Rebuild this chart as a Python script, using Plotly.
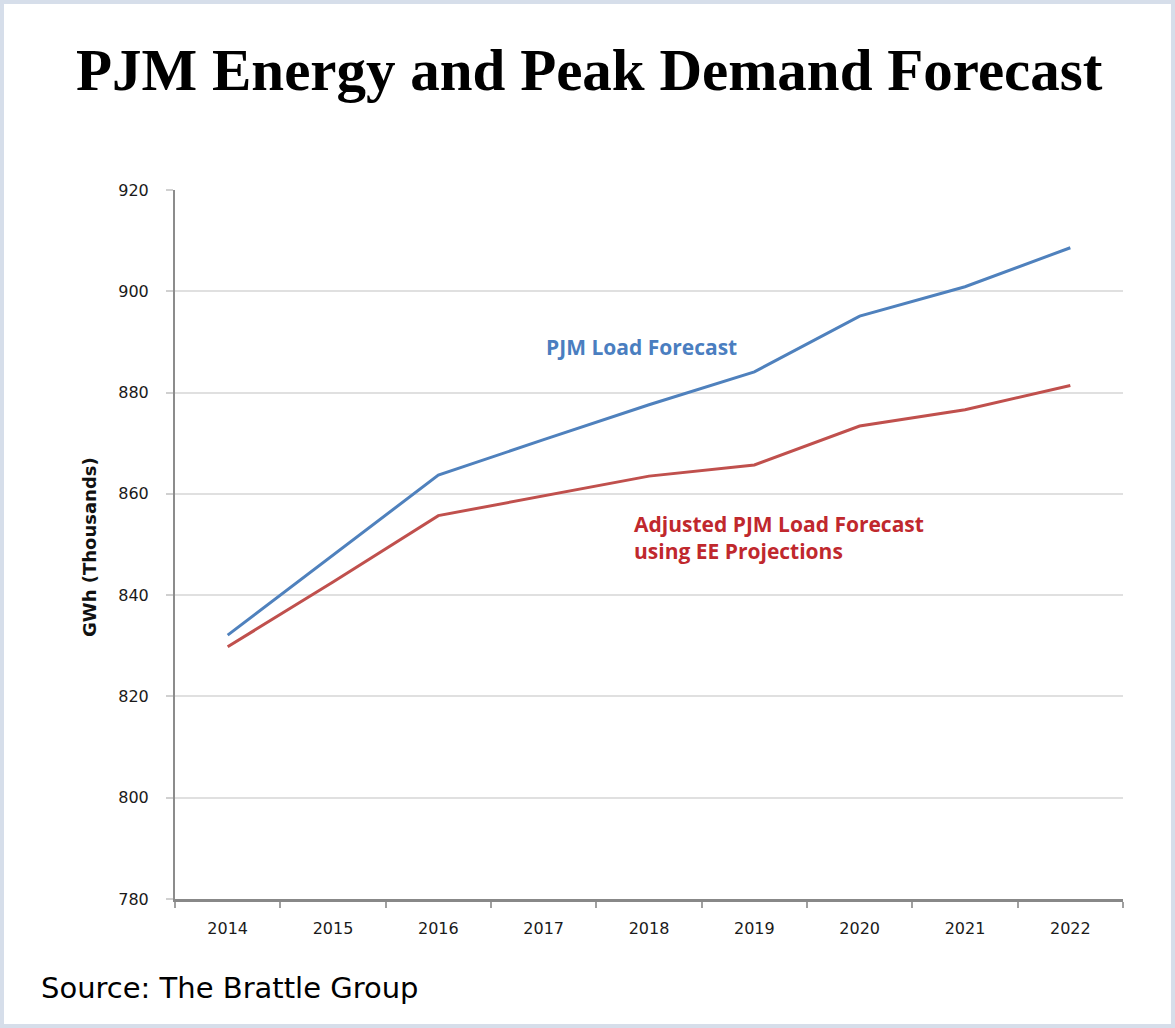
import plotly.graph_objects as go

years = ["2014", "2015", "2016", "2017", "2018", "2019", "2020", "2021", "2022"]
pjm_load = [832.1, 847.9, 863.7, 870.7, 877.6, 884.1, 895.1, 900.9, 908.6]
adjusted_load = [829.8, 842.6, 855.7, 859.6, 863.5, 865.7, 873.4, 876.6, 881.4]
y_ticks = [780, 800, 820, 840, 860, 880, 900, 920]

W, H = 1175, 1028
L, R, T, B = 175, 52, 190, 129
pw, ph = W - L - R, H - T - B


def px(x):
    return (x - L) / pw


def py(y):
    return (H - B - y) / ph


fig = go.Figure()
fig.add_trace(go.Scatter(x=years, y=pjm_load, mode="lines",
                         line=dict(color="#4F81BD", width=3), name="PJM Load Forecast"))
fig.add_trace(go.Scatter(x=years, y=adjusted_load, mode="lines",
                         line=dict(color="#C0504D", width=3),
                         name="Adjusted PJM Load Forecast using EE Projections"))

fig.update_layout(
    width=W, height=H,
    margin=dict(l=L, r=R, t=T, b=B),
    paper_bgcolor="#D6DEEA",
    plot_bgcolor="rgba(0,0,0,0)",
    showlegend=False,
    xaxis=dict(type="category", range=[-0.5, 8.5], tickson="boundaries",
               ticks="outside", ticklen=6, tickcolor="#A0A0A0", tickwidth=1.5,
               showline=True, linecolor="#888888", linewidth=2.5,
               showgrid=False, ticklabelstandoff=13,
               tickfont=dict(family="DejaVu Sans", size=16, color="#1A1A1A")),
    yaxis=dict(range=[780, 920], tickvals=y_ticks,
               ticks="outside", ticklen=7, tickcolor="#D0D0D0", tickwidth=1.5,
               showline=True, linecolor="#8C8C8C", linewidth=2,
               showgrid=True, gridcolor="#E0E0E0", gridwidth=1.5,
               zeroline=False, ticklabelstandoff=14,
               tickfont=dict(family="DejaVu Sans", size=16, color="#1A1A1A")),
    shapes=[dict(type="rect", xref="paper", yref="paper", layer="below",
                 x0=px(4), x1=px(W - 4), y0=py(4), y1=py(H - 4),
                 fillcolor="white", line=dict(width=0))],
    annotations=[
        dict(text="<b>PJM Energy and Peak Demand Forecast</b>", xref="paper", yref="paper",
             x=px(589), y=py(70), xanchor="center", yanchor="middle", showarrow=False,
             font=dict(family="Liberation Serif", size=59, color="black")),
        dict(text="<b>GWh (Thousands)</b>", xref="paper", yref="paper",
             x=px(89), y=py(547), xanchor="center", yanchor="middle", showarrow=False,
             textangle=-90, font=dict(family="DejaVu Sans", size=18, color="#111111")),
        dict(text="<b>PJM Load Forecast</b>", xref="paper", yref="paper",
             x=px(641), y=py(347), xanchor="center", yanchor="middle", showarrow=False,
             font=dict(family="Open Sans", size=21, color="#4A7EC0")),
        dict(text="<b>Adjusted PJM Load Forecast<br>using EE Projections</b>", xref="paper", yref="paper",
             x=px(632), y=py(537), xanchor="left", yanchor="middle", align="left", showarrow=False,
             font=dict(family="Open Sans", size=21, color="#C0282D")),
        dict(text="Source: The Brattle Group", xref="paper", yref="paper",
             x=px(39), y=py(988), xanchor="left", yanchor="middle", showarrow=False,
             font=dict(family="DejaVu Sans", size=29, color="black")),
    ],
)

fig.write_html("out.html", config={"displayModeBar": False},
               post_script="document.body.style.margin='0';document.body.style.overflow='hidden';")
